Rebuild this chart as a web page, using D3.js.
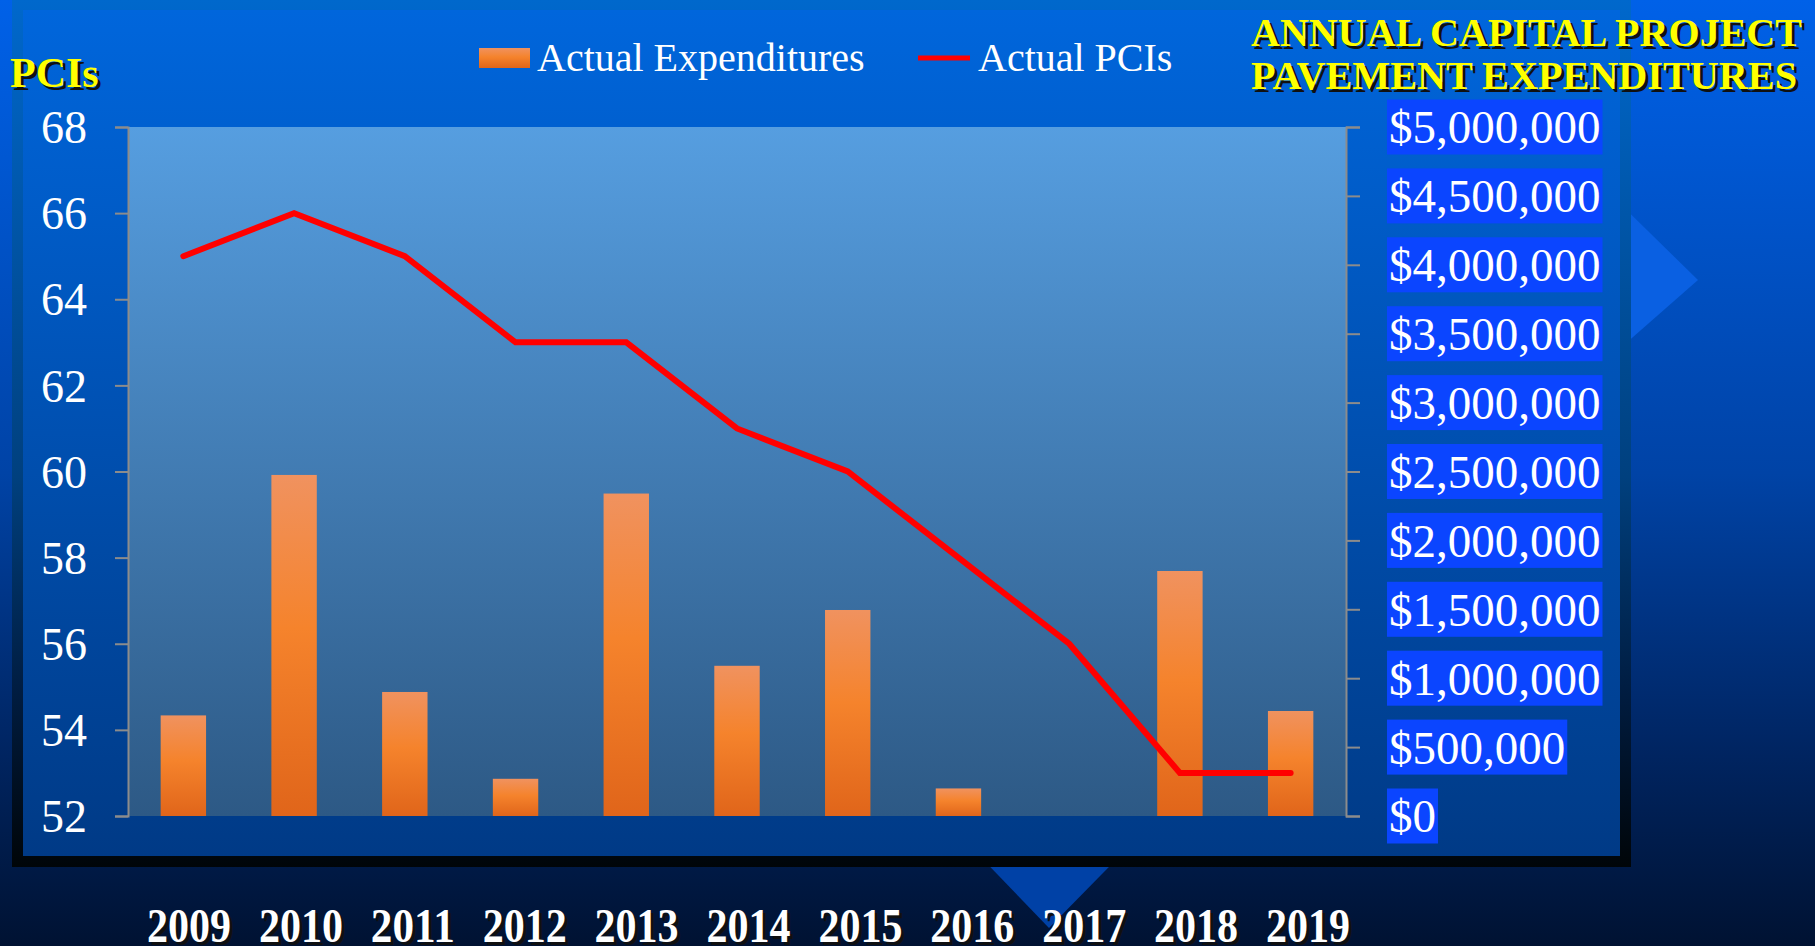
<!DOCTYPE html>
<html>
<head>
<meta charset="utf-8">
<title>Annual Capital Project Pavement Expenditures</title>
<script src="https://cdn.jsdelivr.net/npm/d3@7"></script>
<style>
	html, body { margin: 0; padding: 0; overflow: hidden; background: #001438; }
	svg { display: block; font-family: "Liberation Serif", "Times New Roman", serif; }
</style>
</head>
<body>
<svg id="chart" width="1815" height="946"></svg>
<script>
// values
const years        = ["2009", "2010", "2011", "2012", "2013", "2014", "2015", "2016", "2017", "2018", "2019"];
const expenditures = [730000, 2475000, 900000, 270000, 2340000, 1090000, 1495000, 200000, 0, 1778000, 762000];
const pcis         = [65, 66, 65, 63, 63, 61, 60, 58, 56, 53, 53];
const pciTicks     = [52, 54, 56, 58, 60, 62, 64, 66, 68];
const moneyTicks   = [0, 500000, 1000000, 1500000, 2000000, 2500000, 3000000, 3500000, 4000000, 4500000, 5000000];
const titleLines   = ["ANNUAL CAPITAL PROJECT", "PAVEMENT EXPENDITURES"];

const width = 1815, height = 946;
const plot = {left: 128, right: 1346, top: 127, bottom: 816};

const svg = d3.select("#chart");
const defs = svg.append("defs");

let vGrad = (id, stops) => {
	const g = defs.append("linearGradient").attr("id", id)
		.attr("x1", 0).attr("y1", 0).attr("x2", 0).attr("y2", 1);
	stops.forEach(s => g.append("stop").attr("offset", s[0]).attr("stop-color", s[1]));
};
vGrad("bgGrad",    [["0%", "#0061e8"], ["50%", "#0043a6"], ["80%", "#002460"], ["100%", "#001232"]]);
vGrad("frameGrad", [["0%", "#0068cc"], ["55%", "#00407e"], ["80%", "#001c40"], ["100%", "#000508"]]);
vGrad("panelGrad", [["0%", "#0066dc"], ["100%", "#003a86"]]);
vGrad("plotGrad",  [["0%", "#569ee0"], ["100%", "#2d5985"]]);
vGrad("barGrad",   [["0%", "#f0925f"], ["45%", "#f5832c"], ["100%", "#e0651a"]]);

// slide background and decorations
svg.append("rect").attr("width", width).attr("height", height).attr("fill", "url(#bgGrad)");
svg.append("polygon").attr("points", "1600,184 1698,280 1600,366").attr("fill", "#0a60e2");
svg.append("polygon").attr("points", "945,820 1155,820 1049,928").attr("fill", "#0041a6");
svg.append("rect").attr("x", 12).attr("y", 0).attr("width", 1619).attr("height", 867).attr("fill", "url(#frameGrad)");
svg.append("rect").attr("x", 23).attr("y", 10).attr("width", 1597).attr("height", 846).attr("fill", "url(#panelGrad)");

// scales
const x = d3.scaleBand().domain(years).range([plot.left, plot.right]).paddingInner(0.59).paddingOuter(0.295);
const yL = d3.scaleLinear().domain([52, 68]).range([plot.bottom, plot.top]);
const yR = d3.scaleLinear().domain([0, 5000000]).range([plot.bottom, plot.top]);
const xLabels = d3.scalePoint().domain(years).range([189, 1308]);

svg.append("rect")
	.attr("x", plot.left).attr("y", plot.top)
	.attr("width", plot.right - plot.left).attr("height", plot.bottom - plot.top)
	.attr("fill", "url(#plotGrad)");

// bars
svg.append("g")
	.selectAll("rect")
	.data(years.map((y, i) => ({year: y, value: expenditures[i]})))
	.join("rect")
		.attr("x", d => x(d.year))
		.attr("y", d => yR(d.value))
		.attr("width", x.bandwidth())
		.attr("height", d => plot.bottom - yR(d.value))
		.attr("fill", "url(#barGrad)");

// PCI line
const line = d3.line()
	.x((d, i) => x(years[i]) + x.bandwidth() / 2)
	.y(d => yL(d));

svg.append("path")
	.datum(pcis)
	.attr("d", line)
	.attr("fill", "none")
	.attr("stroke", "#ff0000")
	.attr("stroke-width", 6)
	.attr("stroke-linecap", "round");

// left axis
const leftAxis = svg.append("g")
	.attr("transform", "translate(" + plot.left + ",0)")
	.call(d3.axisLeft(yL).tickValues(pciTicks).tickSizeInner(13).tickSizeOuter(13).tickPadding(28));

// right axis
const rightAxis = svg.append("g")
	.attr("transform", "translate(" + plot.right + ",0)")
	.call(d3.axisRight(yR).tickValues(moneyTicks).tickSizeInner(14).tickSizeOuter(14).tickPadding(29)
		.tickFormat(d3.format("$,")));

[leftAxis, rightAxis].forEach(a => {
	a.select(".domain").attr("stroke", "#8c8c8c").attr("stroke-width", 2);
	a.selectAll(".tick line").attr("stroke", "#8c8c8c").attr("stroke-width", 2);
	a.selectAll(".tick text")
		.attr("fill", "#ffffff")
		.attr("font-family", "'Liberation Serif', 'Times New Roman', serif")
		.attr("font-size", 46)
		.attr("dy", "0.34em");
});
rightAxis.selectAll(".tick text").attr("font-size", 47);

// blue boxes behind the money labels
rightAxis.selectAll(".tick").each(function() {
	const t = d3.select(this).select("text");
	const bb = t.node().getBBox();
	d3.select(this).insert("rect", "text")
		.attr("x", bb.x - 2).attr("y", -28)
		.attr("width", bb.width + 4).attr("height", 55)
		.attr("fill", "#0b45ff");
});

// text with a dark drop shadow
let shadowText = (g, tx, ty, str, size, fill, extra) => {
	[["#101010", 3], [fill, 0]].forEach(([c, off]) => {
		const t = g.append("text")
			.attr("x", tx + off).attr("y", ty + off)
			.attr("font-size", size).attr("font-weight", "bold")
			.attr("fill", c).text(str);
		if (extra) extra(t);
	});
};

shadowText(svg, 10, 87, "PCIs", 42, "#ffff00");

titleLines.forEach((s, i) => {
	shadowText(svg, 1251, 46 + i * 43, s, 40, "#ffff00",
		t => t.attr("textLength", i === 0 ? 551 : 546).attr("lengthAdjust", "spacingAndGlyphs"));
});

// legend
const legend = svg.append("g");
legend.append("rect").attr("x", 479).attr("y", 48).attr("width", 51).attr("height", 20).attr("fill", "url(#barGrad)");
legend.append("text").attr("x", 537).attr("y", 71).attr("font-size", 40).attr("fill", "#ffffff").text("Actual Expenditures");
legend.append("line").attr("x1", 918).attr("x2", 970).attr("y1", 58).attr("y2", 58)
	.attr("stroke", "#ff0000").attr("stroke-width", 5);
legend.append("text").attr("x", 978).attr("y", 71).attr("font-size", 40).attr("fill", "#ffffff").text("Actual PCIs");

// year labels (separate text row under the frame)
const yearRow = svg.append("g");
years.forEach(y => {
	shadowText(yearRow, xLabels(y) - 42, 942, y, 48, "#ffffff",
		t => t.attr("textLength", 84).attr("lengthAdjust", "spacingAndGlyphs"));
});
</script>
</body>
</html>
